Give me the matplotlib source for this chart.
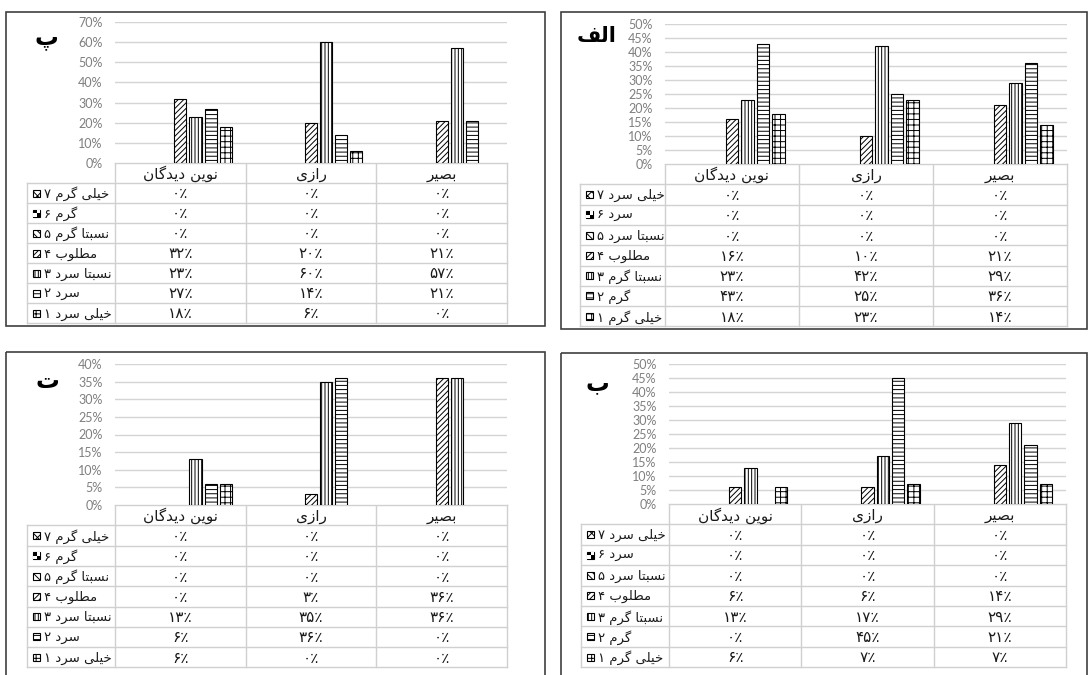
import numpy as np
import matplotlib
matplotlib.use('Agg')
import matplotlib.pyplot as plt
from matplotlib.patches import Rectangle

W, H = 1088, 675

# categories (schools) and series labels, series ordered 7 -> 1 as in the data table
categories = ['نوین دیدگان', 'رازی', 'بصیر']
labels_warm = ['خیلی گرم ۷', 'گرم ۶', 'نسبتا گرم ۵', 'مطلوب ۴', 'نسبتا سرد ۳', 'سرد ۲', 'خیلی سرد ۱']
labels_cold = ['خیلی سرد ۷', 'سرد ۶', 'نسبتا سرد ۵', 'مطلوب ۴', 'نسبتا گرم ۳', 'گرم ۲', 'خیلی گرم ۱']

# percent values, one row per series, one column per category
alef_values = [[0, 0, 0], [0, 0, 0], [0, 0, 0], [16, 10, 21], [23, 42, 29], [43, 25, 36], [18, 23, 14]]
be_values = [[0, 0, 0], [0, 0, 0], [0, 0, 0], [6, 6, 14], [13, 17, 29], [0, 45, 21], [6, 7, 7]]
pe_values = [[0, 0, 0], [0, 0, 0], [0, 0, 0], [32, 20, 21], [23, 60, 57], [27, 14, 21], [18, 6, 0]]
te_values = [[0, 0, 0], [0, 0, 0], [0, 0, 0], [0, 3, 36], [13, 35, 36], [6, 36, 0], [6, 0, 0]]

hatches = ['xxxx', None, '\\\\\\\\\\', '//////', '|||||', '----', '+++']

plt.rcParams['hatch.linewidth'] = 0.7
plt.rcParams['font.family'] = ['DejaVu Sans']

# --- minimal Persian shaping (matplotlib has no bidi / contextual forms) ---
FORMS = {
    'ا': (0xFE8D, 0xFE8E, None, None),
    'ب': (0xFE8F, 0xFE90, 0xFE91, 0xFE92),
    'پ': (0xFB56, 0xFB57, 0xFB58, 0xFB59),
    'ت': (0xFE95, 0xFE96, 0xFE97, 0xFE98),
    'خ': (0xFEA5, 0xFEA6, 0xFEA7, 0xFEA8),
    'د': (0xFEA9, 0xFEAA, None, None),
    'ر': (0xFEAD, 0xFEAE, None, None),
    'ز': (0xFEAF, 0xFEB0, None, None),
    'س': (0xFEB1, 0xFEB2, 0xFEB3, 0xFEB4),
    'ص': (0xFEB9, 0xFEBA, 0xFEBB, 0xFEBC),
    'ط': (0xFEC1, 0xFEC2, 0xFEC3, 0xFEC4),
    'ف': (0xFED1, 0xFED2, 0xFED3, 0xFED4),
    'گ': (0xFB92, 0xFB93, 0xFB94, 0xFB95),
    'ل': (0xFEDD, 0xFEDE, 0xFEDF, 0xFEE0),
    'م': (0xFEE1, 0xFEE2, 0xFEE3, 0xFEE4),
    'ن': (0xFEE5, 0xFEE6, 0xFEE7, 0xFEE8),
    'و': (0xFEED, 0xFEEE, None, None),
    'ی': (0xFBFC, 0xFBFD, 0xFBFE, 0xFBFF),
}


def shape_word(w):
    out = []
    for i, ch in enumerate(w):
        f = FORMS.get(ch)
        if f is None:
            out.append(ch)
            continue
        prev = w[i - 1] if i > 0 else None
        nxt = w[i + 1] if i + 1 < len(w) else None
        jp = prev in FORMS and FORMS[prev][2] is not None
        jn = nxt in FORMS and f[2] is not None
        if jp and jn:
            code = f[3]
        elif jp:
            code = f[1]
        elif jn:
            code = f[2]
        else:
            code = f[0]
        out.append(chr(code))
    return ''.join(reversed(out))


def fa(text):
    words = [shape_word(w) if any(c in FORMS for c in w) else w for w in text.split(' ')]
    return ' '.join(reversed(words))


def fa_pct(v):
    digits = '۰۱۲۳۴۵۶۷۸۹'
    return ''.join(digits[int(c)] for c in str(int(round(v)))) + '٪'


fig = plt.figure(figsize=(W / 100, H / 100), dpi=100)
bg = fig.add_axes([0, 0, 1, 1])
bg.set_xlim(0, W)
bg.set_ylim(H, 0)
bg.axis('off')


def px_axes(x0, y0, x1, y1):
    return fig.add_axes([x0 / W, 1 - y1 / H, (x1 - x0) / W, (y1 - y0) / H])


def draw_panel(title, values, labels, ymax, step, box, plot, table_top, row_h, lab_x,
               title_xy, title_size):
    bx0, by0, bx1, by1 = box
    bg.add_patch(Rectangle((bx0, by0), bx1 - bx0, by1 - by0, fill=False,
                           edgecolor='#404040', lw=1.2))
    bg.text(title_xy[0], title_xy[1], fa(title), fontsize=title_size, fontweight='bold',
            ha='center', va='center')

    x0, y0, x1, y1 = plot
    ax = px_axes(x0, y0, x1, y1)
    slot = 0.116
    width = 0.092
    x = np.arange(len(categories))
    for i, row in enumerate(values):
        row = np.array(row, dtype=float)
        ax.bar(x + (i - 3) * slot, row, width, color='white', edgecolor='black',
               linewidth=[0.8 if v > 0 else 0 for v in row], hatch=hatches[i], zorder=3)
    ax.set_xlim(-0.5, 2.5)
    ax.set_ylim(0, ymax)
    ax.set_yticks(np.arange(0, ymax + step / 2, step))
    ax.set_yticklabels([f'{v:.0f}%' for v in np.arange(0, ymax + step / 2, step)],
                       fontsize=9, color='#7f7f7f', family='Lato')
    ax.set_xticks([])
    ax.tick_params(axis='y', length=0, pad=9)
    ax.yaxis.grid(True, color='#d4d4d4', lw=1)
    ax.set_axisbelow(True)
    for s in ax.spines.values():
        s.set_visible(False)

    # data table under the chart
    col_w = (x1 - x0) / len(categories)
    n = len(labels)
    bottom = table_top + row_h * (n + 1)
    gcol = '#d0d0d0'
    bg.plot([x0, x1], [table_top, table_top], color=gcol, lw=1)
    for r in range(1, n + 2):
        yy = table_top + r * row_h
        bg.plot([lab_x, x1], [yy, yy], color=gcol, lw=1)
    for c in range(len(categories) + 1):
        xx = x0 + c * col_w
        bg.plot([xx, xx], [table_top, bottom], color=gcol, lw=1)
    bg.plot([lab_x, lab_x], [table_top + row_h, bottom], color=gcol, lw=1)

    for c, name in enumerate(categories):
        bg.text(x0 + (c + 0.5) * col_w, table_top + row_h / 2 + 1, fa(name),
                fontsize=11, ha='center', va='center', color='#1a1a1a')
    for r, (lab, row) in enumerate(zip(labels, values)):
        yc = table_top + (r + 1.5) * row_h
        # legend key
        kx, ks = lab_x + 6, 7
        if hatches[r] is None:
            bg.add_patch(Rectangle((kx, yc - ks / 2), ks, ks, facecolor='black',
                                   edgecolor='black', lw=0.8))
            bg.add_patch(Rectangle((kx + ks / 2, yc - ks / 2), ks / 2, ks / 2,
                                   facecolor='white', lw=0))
            bg.add_patch(Rectangle((kx, yc), ks / 2, ks / 2, facecolor='white', lw=0))
        else:
            bg.add_patch(Rectangle((kx, yc - ks / 2), ks, ks, facecolor='white',
                                   edgecolor='black', lw=0.8, hatch=hatches[r]))
        bg.text(lab_x + 17, yc + 1, fa(lab), fontsize=9.5,
                ha='left', va='center', color='#1a1a1a')
        for c, v in enumerate(row):
            bg.text(x0 + (c + 0.5) * col_w, yc + 1, fa_pct(v), fontsize=11,
                    ha='center', va='center', color='#1a1a1a')


draw_panel('پ', pe_values, labels_warm, 70, 10, (6, 12, 545, 326),
           (115, 22, 507, 163), 163, 20, 27, (46, 38), 17)
draw_panel('الف', alef_values, labels_cold, 50, 5, (561, 12, 1087, 329),
           (665, 24, 1067, 164), 164, 20.3, 580, (597, 36), 15)
draw_panel('ت', te_values, labels_warm, 40, 5, (6, 352, 545, 680),
           (115, 364, 507, 505), 505, 20.3, 27, (47, 381), 17)
draw_panel('ب', be_values, labels_cold, 50, 5, (561, 353, 1087, 680),
           (669, 364, 1066, 504), 504, 20.4, 581, (597, 383), 17)

fig.savefig('out.png', dpi=100)
